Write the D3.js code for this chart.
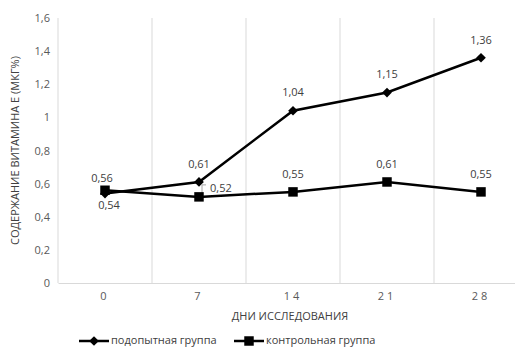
<!DOCTYPE html>
<html>
<head>
<meta charset="utf-8">
<script src="https://cdn.jsdelivr.net/npm/d3@7"></script>
<style>
  html, body { margin: 0; padding: 0; background: #fff; }
  svg { display: block; font-family: "Open Sans", "Noto Sans", sans-serif; }
</style>
</head>
<body>
<svg id="chart" width="515" height="347"></svg>
<script>
// Days of the study (categories)
const days = ["0", "7", "14", "21", "28"];
// Vitamin E content, µg%
const experimental = [0.54, 0.61, 1.04, 1.15, 1.36];
const control = [0.56, 0.52, 0.55, 0.61, 0.55];
const yTicks = [0, 0.2, 0.4, 0.6, 0.8, 1, 1.2, 1.4, 1.6];
const seriesNames = ["подопытная группа", "контрольная группа"];
const yTitle = "СОДЕРЖАНИЕ ВИТАМИНА Е (МКГ%)";
const xTitle = "ДНИ ИССЛЕДОВАНИЯ";

const svg = d3.select("#chart");
const plot = { left: 58, right: 528, top: 18, bottom: 283 };

const x = d3.scaleBand().domain(days).range([plot.left, plot.right]);
const y = d3.scaleLinear().domain([0, 1.6]).range([plot.bottom, plot.top]);
const fmt = v => String(v).replace(".", ",");

// vertical gridlines at category boundaries
const bounds = days.map(d => x(d));
svg.append("g").selectAll("line").data(bounds).join("line")
  .attr("x1", d => d).attr("x2", d => d)
  .attr("y1", plot.top).attr("y2", plot.bottom)
  .attr("stroke", "#d9d9d9").attr("stroke-width", 1);

// category axis
const xAxis = d3.axisBottom(x).tickSize(0).tickPadding(9);
const gx = svg.append("g").attr("transform", `translate(0,${plot.bottom})`).call(xAxis);
gx.select(".domain").attr("stroke", "#d9d9d9");
gx.selectAll("text").attr("fill", "#595959").attr("font-size", 11)
  .attr("font-family", "Open Sans, sans-serif")
  .style("letter-spacing", "3px");

// value axis (labels only)
const yAxis = d3.axisLeft(y).tickValues(yTicks).tickSize(0).tickPadding(8)
  .tickFormat(fmt);
const gy = svg.append("g").attr("transform", `translate(${plot.left},0)`).call(yAxis);
gy.select(".domain").remove();
gy.selectAll("text").attr("fill", "#595959").attr("font-size", 11)
  .attr("font-family", "Open Sans, sans-serif");

// axis titles
svg.append("text")
  .attr("transform", `translate(16,${(plot.top + plot.bottom) / 2}) rotate(-90)`)
  .attr("text-anchor", "middle").attr("dominant-baseline", "middle")
  .attr("font-size", 11).attr("fill", "#404040").text(yTitle);
svg.append("text")
  .attr("x", 290).attr("y", 317)
  .attr("text-anchor", "middle").attr("dominant-baseline", "middle")
  .attr("font-size", 11).attr("fill", "#404040").text(xTitle);

const cx = d => x(d) + x.bandwidth() / 2;
const line = d3.line().x((v, i) => cx(days[i])).y(v => y(v));

// series lines
svg.append("path").datum(control).attr("d", line)
  .attr("fill", "none").attr("stroke", "#000").attr("stroke-width", 2.5);
svg.append("path").datum(experimental).attr("d", line)
  .attr("fill", "none").attr("stroke", "#000").attr("stroke-width", 2.5);

// leader line for the shifted label on day 7 (drawn under the markers)
const lx = cx(days[1]) + 3, ly = y(control[1]);
svg.append("path")
  .attr("d", `M${lx},${ly - 4} V${ly - 12} H${lx + 4}`)
  .attr("fill", "none").attr("stroke", "#a6a6a6").attr("stroke-width", 1);

// markers
const diamond = d3.symbol().type(d3.symbolDiamond2).size(60);
const square = d3.symbol().type(d3.symbolSquare).size(90);
svg.append("g").selectAll("path").data(experimental).join("path")
  .attr("d", diamond)
  .attr("transform", (v, i) => `translate(${cx(days[i])},${y(v)})`)
  .attr("fill", "#000");
svg.append("g").selectAll("path").data(control).join("path")
  .attr("d", square)
  .attr("transform", (v, i) => `translate(${cx(days[i])},${y(v)})`)
  .attr("fill", "#000");

// data labels: [dx, dy, anchor] for each label
const labelStyle = s => s.attr("font-size", 11).attr("fill", "#404040")
  .attr("dominant-baseline", "middle");
const expOffsets = [[4, 12, "middle"], [0, -17, "middle"], [0, -18, "middle"], [0, -17, "middle"], [0, -17, "middle"]];
const ctlOffsets = [[-3, -11, "middle"], [11, -8, "start"], [0, -17, "middle"], [0, -17, "middle"], [0, -17, "middle"]];
svg.append("g").selectAll("text").data(experimental).join("text")
  .attr("x", (v, i) => cx(days[i]) + expOffsets[i][0])
  .attr("y", (v, i) => y(v) + expOffsets[i][1])
  .attr("text-anchor", (v, i) => expOffsets[i][2])
  .call(labelStyle).text(fmt);
svg.append("g").selectAll("text").data(control).join("text")
  .attr("x", (v, i) => cx(days[i]) + ctlOffsets[i][0])
  .attr("y", (v, i) => y(v) + ctlOffsets[i][1])
  .attr("text-anchor", (v, i) => ctlOffsets[i][2])
  .call(labelStyle).text(fmt);

// legend
const legendY = 341;
const legend = [
  { name: seriesNames[0], x0: 79, x1: 109, sym: diamond },
  { name: seriesNames[1], x0: 234, x1: 264, sym: square }
];
const lg = svg.append("g").selectAll("g").data(legend).join("g");
lg.append("line")
  .attr("x1", d => d.x0).attr("x2", d => d.x1)
  .attr("y1", legendY).attr("y2", legendY)
  .attr("stroke", "#000").attr("stroke-width", 2.5);
lg.append("path").attr("d", d => d.sym())
  .attr("transform", d => `translate(${(d.x0 + d.x1) / 2},${legendY})`)
  .attr("fill", "#000");
lg.append("text")
  .attr("x", d => d.x1 + 2).attr("y", legendY)
  .attr("dominant-baseline", "middle")
  .attr("font-size", 11).attr("fill", "#404040").text(d => d.name);
</script>
</body>
</html>
